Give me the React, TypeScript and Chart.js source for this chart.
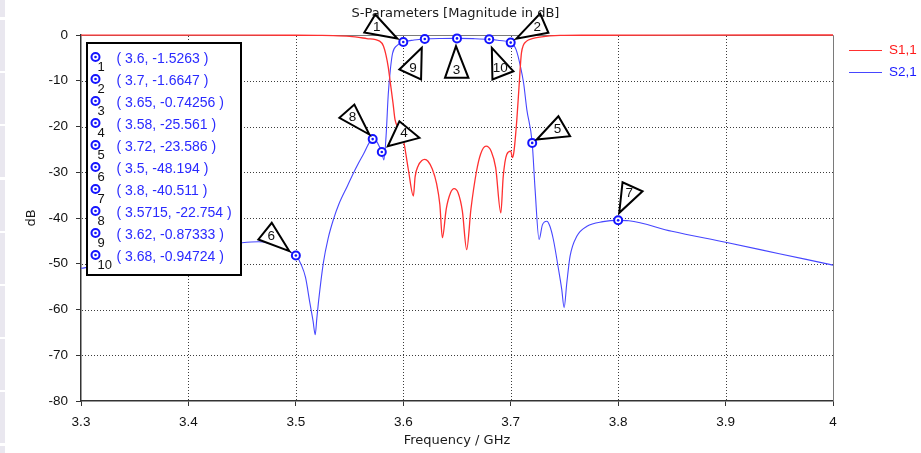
import { useEffect, useRef } from "react";
import { Chart, registerables } from "chart.js";

Chart.register(...registerables);

// ---------- data ----------
const seriesNames = ["S1,1", "S2,1"];

const s11Freq = [
  3.3, 3.4, 3.45, 3.5, 3.52, 3.535, 3.55, 3.566, 3.578, 3.5815,
  3.584, 3.586, 3.5877, 3.5905, 3.5923, 3.596, 3.6, 3.6047, 3.6094, 3.611,
  3.614, 3.617, 3.62, 3.623, 3.627, 3.631, 3.634, 3.6364, 3.64, 3.644,
  3.6473, 3.651, 3.655, 3.659, 3.663, 3.668, 3.672, 3.677, 3.682, 3.686,
  3.6908, 3.693, 3.6963, 3.7, 3.7016, 3.703, 3.7057, 3.708, 3.71, 3.7148,
  3.72, 3.727, 3.746, 3.77, 3.85, 4.0,
];
const s11Db = [
  -0.01, -0.02, -0.03, -0.05, -0.08, -0.12, -0.3, -0.77, -1.35, -2.4,
  -4.5, -7, -10, -15, -18.5, -20.5, -22.8, -29.4, -35.2, -31,
  -28.5, -27.5, -27.2, -27.6, -29.3, -32.5, -37, -44.3, -38, -34.5,
  -33.6, -34.5, -38.5, -46.9, -38, -30, -26, -24.3, -25.5, -29,
  -38.9, -31, -26.1, -25.4, -26.8, -25.5, -18.5, -10.4, -3.9, -1.35,
  -0.8, -0.47, -0.1, -0.05, -0.01, 0,
];

const s21Freq = [
  3.3, 3.33, 3.36, 3.39, 3.42, 3.45, 3.465, 3.475, 3.485, 3.495,
  3.5, 3.505, 3.509, 3.513, 3.516, 3.518, 3.5195, 3.521, 3.5256, 3.53,
  3.535, 3.54, 3.548, 3.555, 3.563, 3.5715, 3.575, 3.578, 3.58, 3.582,
  3.584, 3.586, 3.588, 3.59, 3.594, 3.6, 3.61, 3.62, 3.635, 3.65,
  3.665, 3.68, 3.69, 3.7, 3.705, 3.709, 3.712, 3.715, 3.72, 3.7227,
  3.7264, 3.7295, 3.7336, 3.7365, 3.7397, 3.744, 3.7475, 3.7497, 3.7522, 3.7553,
  3.7615, 3.771, 3.786, 3.8, 3.81, 3.85, 3.9, 3.95, 4.0,
];
const s21Db = [
  -51, -50, -48.8, -47.5, -46.3, -45.4, -45.2, -45.5, -46.3, -47.4,
  -48.19, -50.2, -53, -58.5, -62.5, -65.5, -62, -58.5, -49.8, -44.5,
  -40.3, -37, -33, -29.5, -26, -22.75, -23.2, -24.5, -25.56, -27.3,
  -22, -13, -7.5, -4, -2.3, -1.53, -1.1, -0.87, -0.76, -0.74,
  -0.8, -0.95, -1.2, -1.66, -3.2, -6.8, -10.5, -16.3, -23.59, -33.8,
  -44.7, -41.5, -40.7, -41.8, -44.7, -50.5, -55.6, -59.6, -54.2, -48.3,
  -44, -41.8, -40.8, -40.51, -40.6, -42.9, -45.3, -47.8, -50.3,
];

const markerIds = [1, 2, 3, 4, 5, 6, 7, 8, 9, 10];
const markerFreq = [3.6, 3.7, 3.65, 3.58, 3.72, 3.5, 3.8, 3.5715, 3.62, 3.68];
const markerDb = [-1.5263, -1.6647, -0.74256, -25.561, -23.586, -48.194, -40.511, -22.754, -0.87333, -0.94724];

const xMin = 3.3;
const xMax = 4;
const xStep = 0.1;
const yMin = -80;
const yMax = 0;
const yStep = 10;

const titleText = "S-Parameters [Magnitude in dB]";
const xTitle = "Frequency / GHz";
const yTitle = "dB";

// ---------- style ----------
const RED = "#ff3030";
const BLUE = "#4646ff";
const MARK = "#1414ff";
const NUM_FONT = "Liberation Sans";
const TXT_FONT = "DejaVu Sans";

// callout triangle offsets (apex, base1, base2) relative to marker pixel, per marker index
const callouts: number[][] = [
  [-6, -3.5, -39, -9.5, -28, -27.5],
  [5.4, -3.8, 29.4, -29, 37.7, -9.8],
  [-1, 7.8, -12, 39.4, 11.4, 39.4],
  [6, -5.7, 17.6, -30.7, 37.6, -14.1],
  [4.6, -3.4, 26.2, -26.7, 37.9, -6.7],
  [-6.5, -4.3, -37.5, -16, -24.1, -32.7],
  [1.1, -7.5, 4.4, -38.1, 24.4, -29.1],
  [-3.3, -4.6, -33.3, -21.3, -18.3, -34.6],
  [-3, 8.8, -25.4, 30.5, -3.7, 40.5],
  [2.6, 8.5, 3.2, 40.2, 24.2, 31.9],
];

const isNear = (a: number, b: number) => Math.abs(a - b) < 1e-6;

const decorPlugin = {
  id: "decor",
  beforeDraw(chart: any) {
    const ctx = chart.ctx;
    ctx.save();
    ctx.fillStyle = "#ffffff";
    ctx.fillRect(0, 0, chart.width, chart.height);
    ctx.fillStyle = "#e9e7ef";
    ctx.fillRect(0, 0, 5, 17);
    for (let k = 0; k < 9; k++) {
      const y0 = Math.round(20 + 53.2 * k);
      ctx.fillRect(0, y0, 5, 51);
    }
    ctx.restore();
  },
  beforeDatasetsDraw(chart: any) {
    const ctx = chart.ctx;
    const a = chart.chartArea;
    const xs = chart.scales.x;
    const ys = chart.scales.y;
    ctx.save();
    // dotted grid
    ctx.strokeStyle = "#3c3c3c";
    ctx.lineWidth = 1;
    ctx.setLineDash([1, 2]);
    xs.ticks.forEach((t: any) => {
      if (isNear(t.value, xMin) || isNear(t.value, xMax)) return;
      const px = Math.round(xs.getPixelForValue(t.value)) + 0.5;
      ctx.beginPath();
      ctx.moveTo(px, a.top + 1);
      ctx.lineTo(px, a.bottom);
      ctx.stroke();
    });
    ys.ticks.forEach((t: any) => {
      if (isNear(t.value, yMin) || isNear(t.value, yMax)) return;
      const py = Math.round(ys.getPixelForValue(t.value)) + 0.5;
      ctx.beginPath();
      ctx.moveTo(a.left + 1, py);
      ctx.lineTo(a.right, py);
      ctx.stroke();
    });
    ctx.setLineDash([]);
    // top & right frame
    ctx.strokeStyle = "#7a7a7a";
    ctx.beginPath();
    ctx.moveTo(a.left, a.top + 0.5);
    ctx.lineTo(a.right + 0.5, a.top + 0.5);
    ctx.lineTo(a.right + 0.5, a.bottom);
    ctx.stroke();
    ctx.restore();
  },
  afterDatasetsDraw(chart: any) {
    const ctx = chart.ctx;
    const xs = chart.scales.x;
    const ys = chart.scales.y;
    ctx.save();
    markerIds.forEach((id, i) => {
      const px = xs.getPixelForValue(markerFreq[i]);
      const py = ys.getPixelForValue(markerDb[i]);
      ctx.fillStyle = MARK;
      ctx.beginPath();
      ctx.arc(px, py, 1.3, 0, Math.PI * 2);
      ctx.fill();
      const c = callouts[i];
      ctx.beginPath();
      ctx.moveTo(px + c[0], py + c[1]);
      ctx.lineTo(px + c[2], py + c[3]);
      ctx.lineTo(px + c[4], py + c[5]);
      ctx.closePath();
      ctx.fillStyle = "#ffffff";
      ctx.fill();
      ctx.strokeStyle = "#000000";
      ctx.lineWidth = 2;
      ctx.lineJoin = "miter";
      ctx.stroke();
      const lx = px + c[0] * 0.25 + (c[2] + c[4]) * 0.375;
      const ly = py + c[1] * 0.25 + (c[3] + c[5]) * 0.375;
      ctx.fillStyle = "#111";
      ctx.font = `13.5px ${NUM_FONT}`;
      ctx.textAlign = "center";
      ctx.textBaseline = "middle";
      ctx.fillText(String(id), lx, ly);
    });
    ctx.restore();
  },
  afterDraw(chart: any) {
    const ctx = chart.ctx;
    const a = chart.chartArea;
    ctx.save();
    // marker table box
    ctx.fillStyle = "#ffffff";
    ctx.fillRect(87, 43, 154, 232);
    ctx.strokeStyle = "#000";
    ctx.lineWidth = 2;
    ctx.strokeRect(87, 43, 154, 232);
    markerIds.forEach((id, i) => {
      const cy = 57 + 22 * i;
      ctx.strokeStyle = MARK;
      ctx.lineWidth = 2;
      ctx.beginPath();
      ctx.arc(95.5, cy, 4, 0, Math.PI * 2);
      ctx.stroke();
      ctx.fillStyle = MARK;
      ctx.beginPath();
      ctx.arc(95.5, cy, 1.3, 0, Math.PI * 2);
      ctx.fill();
      ctx.fillStyle = "#111";
      ctx.font = `13px ${NUM_FONT}`;
      ctx.textAlign = "left";
      ctx.textBaseline = "middle";
      ctx.fillText(String(id), 97.5, cy + 10);
      ctx.fillStyle = "#2a2aff";
      ctx.font = `14px ${NUM_FONT}`;
      ctx.fillText(`( ${markerFreq[i]}, ${markerDb[i]} )`, 116.5, cy + 2.5);
    });
    // series legend
    const legColors = [RED, BLUE];
    const legText = ["#ff1a1a", "#1a1aff"];
    seriesNames.forEach((n, i) => {
      const y = 49.5 + 22.2 * i;
      ctx.strokeStyle = legColors[i];
      ctx.lineWidth = 1;
      ctx.beginPath();
      ctx.moveTo(849, Math.round(y) + 0.5);
      ctx.lineTo(882, Math.round(y) + 0.5);
      ctx.stroke();
      ctx.fillStyle = legText[i];
      ctx.font = `13.5px ${NUM_FONT}`;
      ctx.textAlign = "left";
      ctx.textBaseline = "middle";
      ctx.fillText(n, 889, y + 1);
    });
    // titles
    ctx.fillStyle = "#1a1a1a";
    ctx.font = `13px ${TXT_FONT}`;
    ctx.textAlign = "center";
    ctx.textBaseline = "middle";
    ctx.fillText(titleText, 455.5, 14);
    ctx.fillText(xTitle, (a.left + a.right) / 2, 441);
    ctx.translate(32, (a.top + a.bottom) / 2);
    ctx.rotate(-Math.PI / 2);
    ctx.fillText(yTitle, 0, 0);
    ctx.restore();
  },
};

export default function App() {
  const ref = useRef<HTMLCanvasElement | null>(null);

  useEffect(() => {
    if (!ref.current) return;
    const chart = new Chart(ref.current, {
      type: "line",
      data: {
        datasets: [
          {
            label: "markers",
            data: markerFreq.map((f, i) => ({ x: f, y: markerDb[i] })),
            showLine: false,
            pointRadius: 4,
            pointBorderWidth: 2,
            pointBorderColor: MARK,
            pointBackgroundColor: "#ffffff",
            pointStyle: "circle",
            clip: false,
          } as any,
          {
            label: seriesNames[0],
            data: s11Freq.map((f, i) => ({ x: f, y: s11Db[i] })),
            borderColor: RED,
            borderWidth: 1.3,
            pointRadius: 0,
            cubicInterpolationMode: "monotone",
            fill: false,
            clip: false,
          } as any,
          {
            label: seriesNames[1],
            data: s21Freq.map((f, i) => ({ x: f, y: s21Db[i] })),
            borderColor: BLUE,
            borderWidth: 1.1,
            pointRadius: 0,
            cubicInterpolationMode: "monotone",
            fill: false,
            clip: false,
          } as any,
        ],
      },
      options: {
        animation: false,
        responsive: false,
        devicePixelRatio: 1,
        layout: { padding: { top: 35, right: 88, left: 0, bottom: 0 } },
        plugins: {
          legend: { display: false },
          title: { display: false },
          tooltip: { enabled: false },
        },
        scales: {
          x: {
            type: "linear",
            min: xMin,
            max: xMax,
            afterFit: (s: any) => {
              s.height = 52;
            },
            ticks: {
              stepSize: xStep,
              autoSkip: false,
              maxRotation: 0,
              padding: 8,
              color: "#111",
              font: { family: NUM_FONT, size: 13.5 },
              callback: (v: any) => String(Math.round(Number(v) * 10) / 10),
            },
            grid: {
              drawOnChartArea: false,
              color: "#333",
              lineWidth: 1,
              tickColor: "#333",
              tickLength: 5,
            },
            border: { color: "#333", width: 1.5 },
          },
          y: {
            type: "linear",
            min: yMin,
            max: yMax,
            afterFit: (s: any) => {
              s.width = 81;
            },
            ticks: {
              stepSize: yStep,
              padding: 8,
              color: "#111",
              font: { family: NUM_FONT, size: 13.5 },
            },
            grid: {
              drawOnChartArea: false,
              color: "#333",
              lineWidth: 1,
              tickColor: "#333",
              tickLength: 5,
            },
            border: { color: "#333", width: 1.5 },
          },
        },
      } as any,
      plugins: [decorPlugin],
    });
    return () => chart.destroy();
  }, []);

  return (
    <div style={{ position: "absolute", left: 0, top: 0, width: 921, height: 453, background: "#fff" }}>
      <canvas ref={ref} width={921} height={453} style={{ display: "block", width: 921, height: 453 }} />
    </div>
  );
}
